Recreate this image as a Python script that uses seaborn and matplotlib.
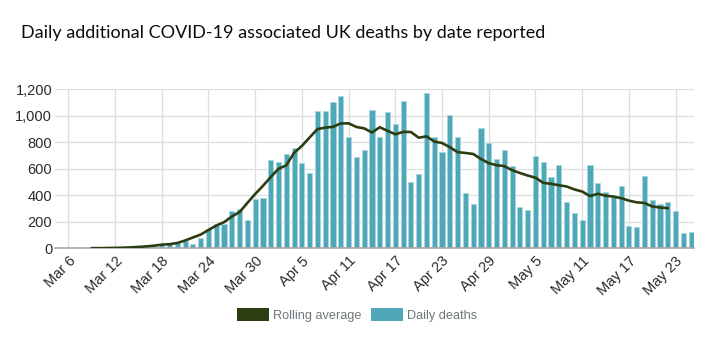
import matplotlib
matplotlib.use("Agg")
import matplotlib.pyplot as plt
from matplotlib.patches import Patch
import numpy as np
import pandas as pd
import seaborn as sns

# Daily additional deaths reported, 6 March - 25 May 2020
start_date = "2020-03-06"
daily_deaths = [
    1, 0, 1, 1, 2, 1, 2, 1, 6, 9,            # Mar 6 - Mar 15
    12, 18, 25, 30, 40, 58, 35, 75, 148, 185,  # Mar 16 - Mar 25
    183, 283, 294, 212, 375, 382, 670, 652, 714, 760,  # Mar 26 - Apr 4
    644, 567, 1037, 1034, 1103, 1152, 839, 686, 744, 1044,  # Apr 5 - Apr 14
    842, 1029, 935, 1115, 498, 559, 1172, 837, 727, 1005,  # Apr 15 - Apr 24
    843, 420, 338, 909, 795, 674, 739, 621, 315, 288,  # Apr 25 - May 4
    693, 649, 539, 626, 346, 268, 210, 627, 494, 428,  # May 5 - May 14
    384, 468, 170, 160, 545, 363, 338, 351, 282, 118,  # May 15 - May 24
    121,                                       # May 25
]
rolling_window = 7
tick_every = 6
y_ticks = [0, 200, 400, 600, 800, 1000, 1200]

title = "Daily additional COVID-19 associated UK deaths by date reported"
bar_label = "Daily deaths"
line_label = "Rolling average"

bar_color = "#50a7b7"
bar_edge = "#a9d7df"
line_color = "#2c3d12"
grid_color = "#dedede"
text_color = "#0b0c0c"

dates = pd.date_range(start_date, periods=len(daily_deaths), freq="D")
df = pd.DataFrame({"day": np.arange(len(daily_deaths)), "date": dates, "deaths": daily_deaths})
df["rolling"] = df["deaths"].rolling(rolling_window, center=True).mean()

sns.set_theme(style="whitegrid")
plt.rcParams["font.family"] = ["Liberation Sans", "DejaVu Sans"]

fig = plt.figure(figsize=(7.23, 3.47), dpi=100)
ax = fig.add_axes([55 / 723, 1 - 248.3 / 347, (694.3 - 55) / 723, (248.3 - 89.3) / 347])

sns.barplot(data=df, x="day", y="deaths", native_scale=True, color=bar_color,
            width=0.66, edgecolor=bar_edge, linewidth=0.6, saturation=1, ax=ax, zorder=2)
sns.lineplot(data=df.dropna(subset=["rolling"]), x="day", y="rolling", color=line_color,
             linewidth=1.9, ax=ax, zorder=3)

ax.set_xlim(-1.71, 80.4)
ax.set_ylim(0, 1200)
ax.set_yticks(y_ticks)
ax.set_yticklabels([f"{v:,}" for v in y_ticks])

tick_days = df["day"].iloc[::tick_every]
ax.set_xticks(tick_days)
ax.set_xticklabels([d.strftime("%b ") + str(d.day) for d in df["date"].iloc[::tick_every]],
                   rotation=45, ha="right", rotation_mode="anchor")

ax.set_axisbelow(True)
ax.grid(True, color=grid_color, linewidth=0.9)
ax.set_xlabel("")
ax.set_ylabel("")
for side in ["top", "right", "left"]:
    ax.spines[side].set_visible(False)
ax.spines["bottom"].set_color("#a8a8a8")
ax.spines["bottom"].set_linewidth(1.2)
ax.tick_params(axis="both", length=0, labelsize=10.5, colors="#2b2b2b")
ax.tick_params(axis="y", pad=2)
ax.tick_params(axis="x", pad=4)

fig.text(21 / 723, 1 - 33 / 347, title, fontsize=13, color=text_color, va="center",
         family=["Lato", "DejaVu Sans"])

handles = [Patch(facecolor=line_color, edgecolor="none", label=line_label),
           Patch(facecolor=bar_color, edgecolor="none", label=bar_label)]
fig.legend(handles=handles, loc="center", bbox_to_anchor=(0.494, 1 - 315 / 347), ncol=2,
           frameon=False, fontsize=9.2, labelcolor="#6f777b", handlelength=2.5,
           handleheight=1.15, handletextpad=0.3, columnspacing=0.8)

fig.savefig("out.png", dpi=100)
